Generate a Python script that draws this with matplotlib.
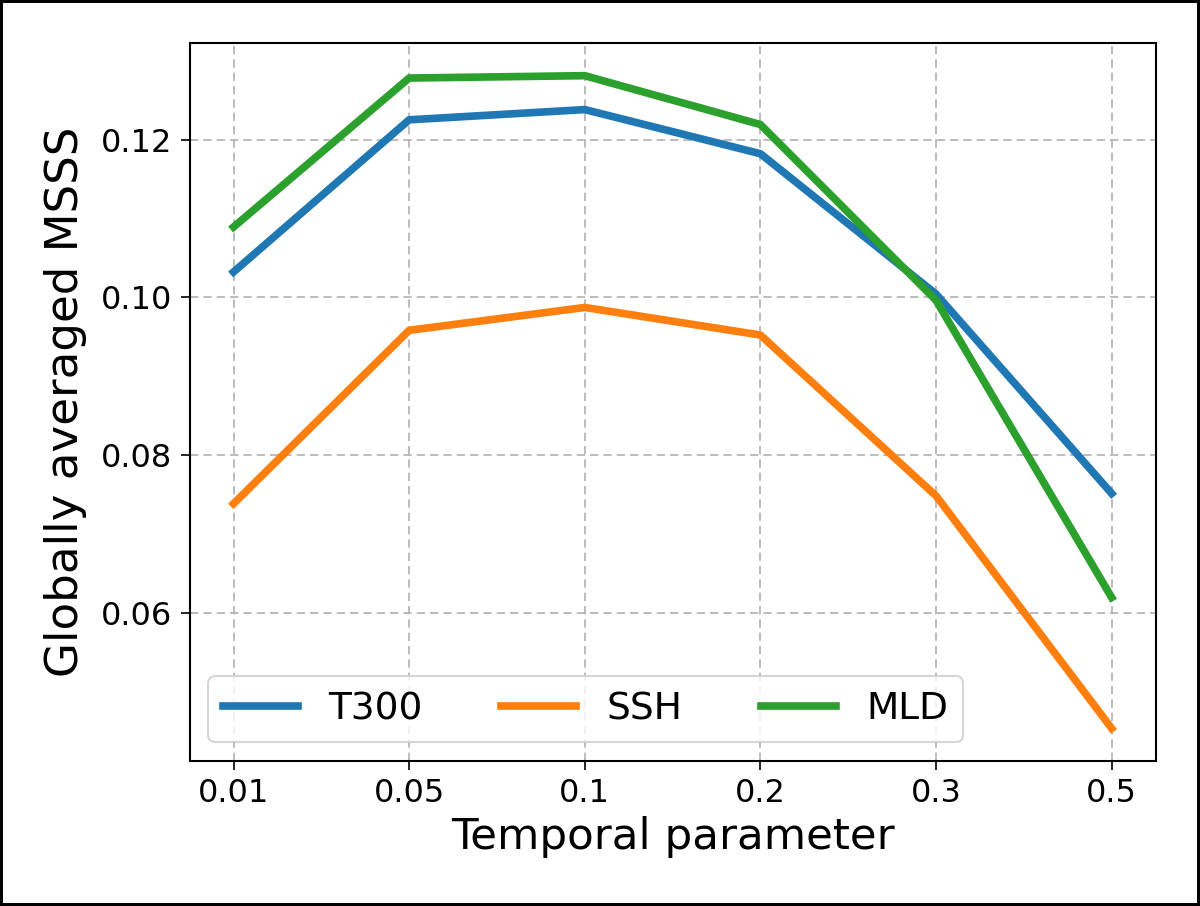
import matplotlib.pyplot as plt
import numpy as np

params = ["0.01", "0.05", "0.1", "0.2", "0.3", "0.5"]
t300 = [0.1032, 0.1225, 0.1238, 0.1182, 0.1004, 0.0751]
ssh = [0.0738, 0.0958, 0.0987, 0.0952, 0.0748, 0.0453]
mld = [0.1089, 0.1278, 0.1281, 0.1219, 0.0996, 0.0619]

fig = plt.figure(figsize=(12, 9.06), dpi=100)
fig.patch.set_edgecolor("black")
fig.patch.set_linewidth(3)
ax = fig.add_axes([0.158, 0.160, 0.805, 0.7925])

x = np.arange(len(params))
ax.plot(x, t300, color="#1f77b4", lw=5.5, label="T300")
ax.plot(x, ssh, color="#ff7f0e", lw=5.5, label="SSH")
ax.plot(x, mld, color="#2ca02c", lw=5.5, label="MLD")

ax.set_xticks(x)
ax.set_xticklabels(params)
ax.set_yticks([0.06, 0.08, 0.10, 0.12])
ax.tick_params(labelsize=23, length=6.5, width=1.2, pad=6)
for s in ax.spines.values():
    s.set_linewidth(1.5)

ax.grid(True, linestyle=(0, (5, 3)), color="#b0b0b0", lw=1.2)
ax.set_xlabel("Temporal parameter", fontsize=31.3, labelpad=5)
ax.set_ylabel("Globally averaged MSSS", fontsize=32.5, labelpad=10)

leg = ax.legend(loc="lower left", ncol=3, fontsize=27, handlelength=2.0,
                columnspacing=2.1, borderpad=0.4)
leg.get_frame().set_linewidth(1.5)

fig.savefig("out.png", dpi=100, edgecolor=fig.get_edgecolor())
